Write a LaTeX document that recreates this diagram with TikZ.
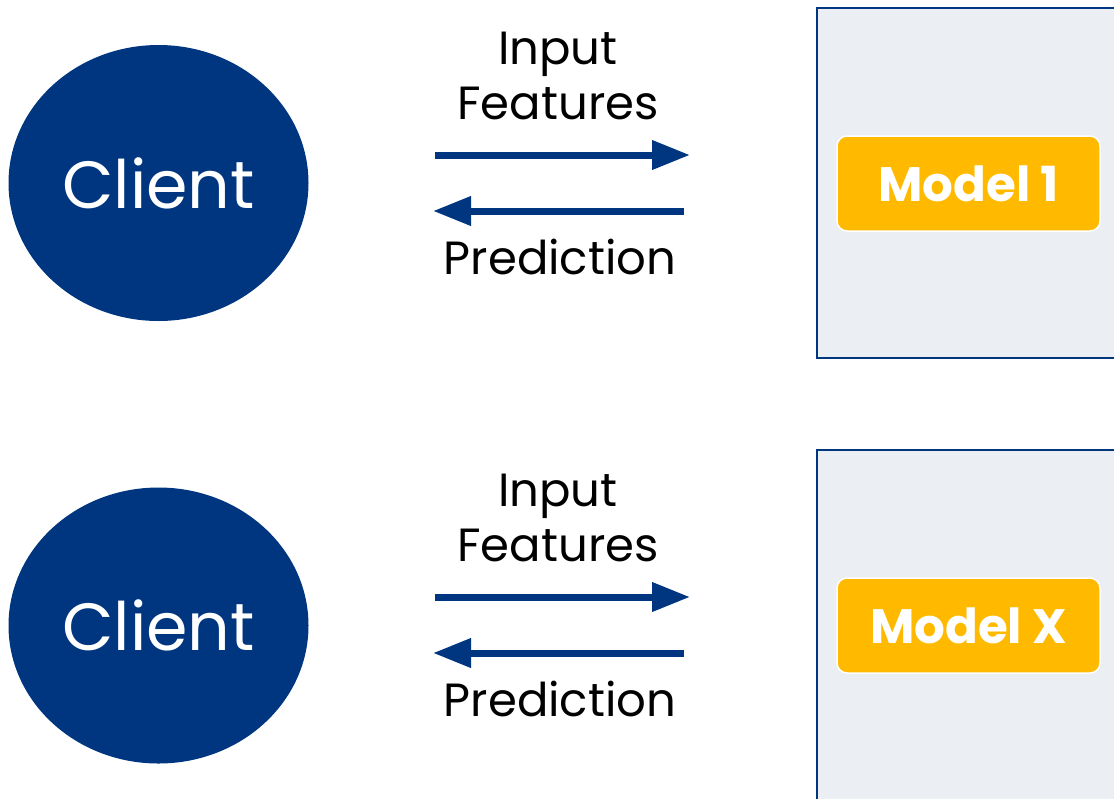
\documentclass[tikz,border=0pt]{standalone}
\usepackage{fontspec}
\setmainfont{Poppins}
\usetikzlibrary{arrows.meta,shapes.geometric}
\definecolor{navy}{RGB}{0,54,128}
\definecolor{panel}{RGB}{235,238,243}
\definecolor{gold}{RGB}{255,186,0}
\newlength{\pxu}\setlength{\pxu}{0.02cm}
\tikzset{
  client/.style={ellipse,draw=none,fill=navy,text=white,inner sep=0pt,minimum width=300\pxu,minimum height=276\pxu,font=\fontsize{38}{45}\selectfont},
  server/.style={draw=navy,fill=panel,line width=2.5\pxu},
  modelbox/.style={draw=white,line width=1.5\pxu,fill=gold,rounded corners=10\pxu,minimum width=263\pxu,minimum height=95\pxu,text=white,font=\fontsize{27.5}{34}\selectfont\bfseries},
  lbl/.style={font=\fontsize{26.5}{32}\selectfont,text=black,inner sep=0pt,align=center},
  flow/.style={draw=navy,line width=0.14cm,-{Triangle[length=0.76cm,width=0.56cm]}}
}
\begin{document}
\begin{tikzpicture}[x=0.02cm,y=-0.02cm]
\useasboundingbox (0,0) rectangle (1114,798);
\clip (0,0) rectangle (1114,798);
% servers
\draw[server] (817,8) rectangle (1120,358);
\node[inner sep=0pt] (s1) at (966,183) {};
\draw[server] (817,450) rectangle (1120,805);
\node[inner sep=0pt] (s2) at (966,625) {};
% clients
\node[client] (c1) at (158.5,183) {Client};
\node[client] (c2) at (158.5,625.5) {Client};
% models
\node[modelbox] (m1) at (968.5,183.5) {Model 1};
\node[modelbox] (m2) at (968.5,625.5) {Model X};
% labels
\node[lbl] (in1) at (558,76) {Input\\[-1pt]Features};
\node[lbl] (pr1) at (560,257) {Prediction};
\node[lbl] (in2) at (558,518) {Input\\[-1pt]Features};
\node[lbl] (pr2) at (560,699) {Prediction};
% arrow endpoints
\coordinate (a1s) at (435,155); \coordinate (a1e) at (690,155);
\coordinate (b1s) at (684,211); \coordinate (b1e) at (433,211);
\coordinate (a2s) at (435,597); \coordinate (a2e) at (690,597);
\coordinate (b2s) at (684,653); \coordinate (b2e) at (433,653);
\draw[flow] (a1s) -- (a1e);
\draw[flow] (b1s) -- (b1e);
\draw[flow] (a2s) -- (a2e);
\draw[flow] (b2s) -- (b2e);
\end{tikzpicture}
\end{document}
